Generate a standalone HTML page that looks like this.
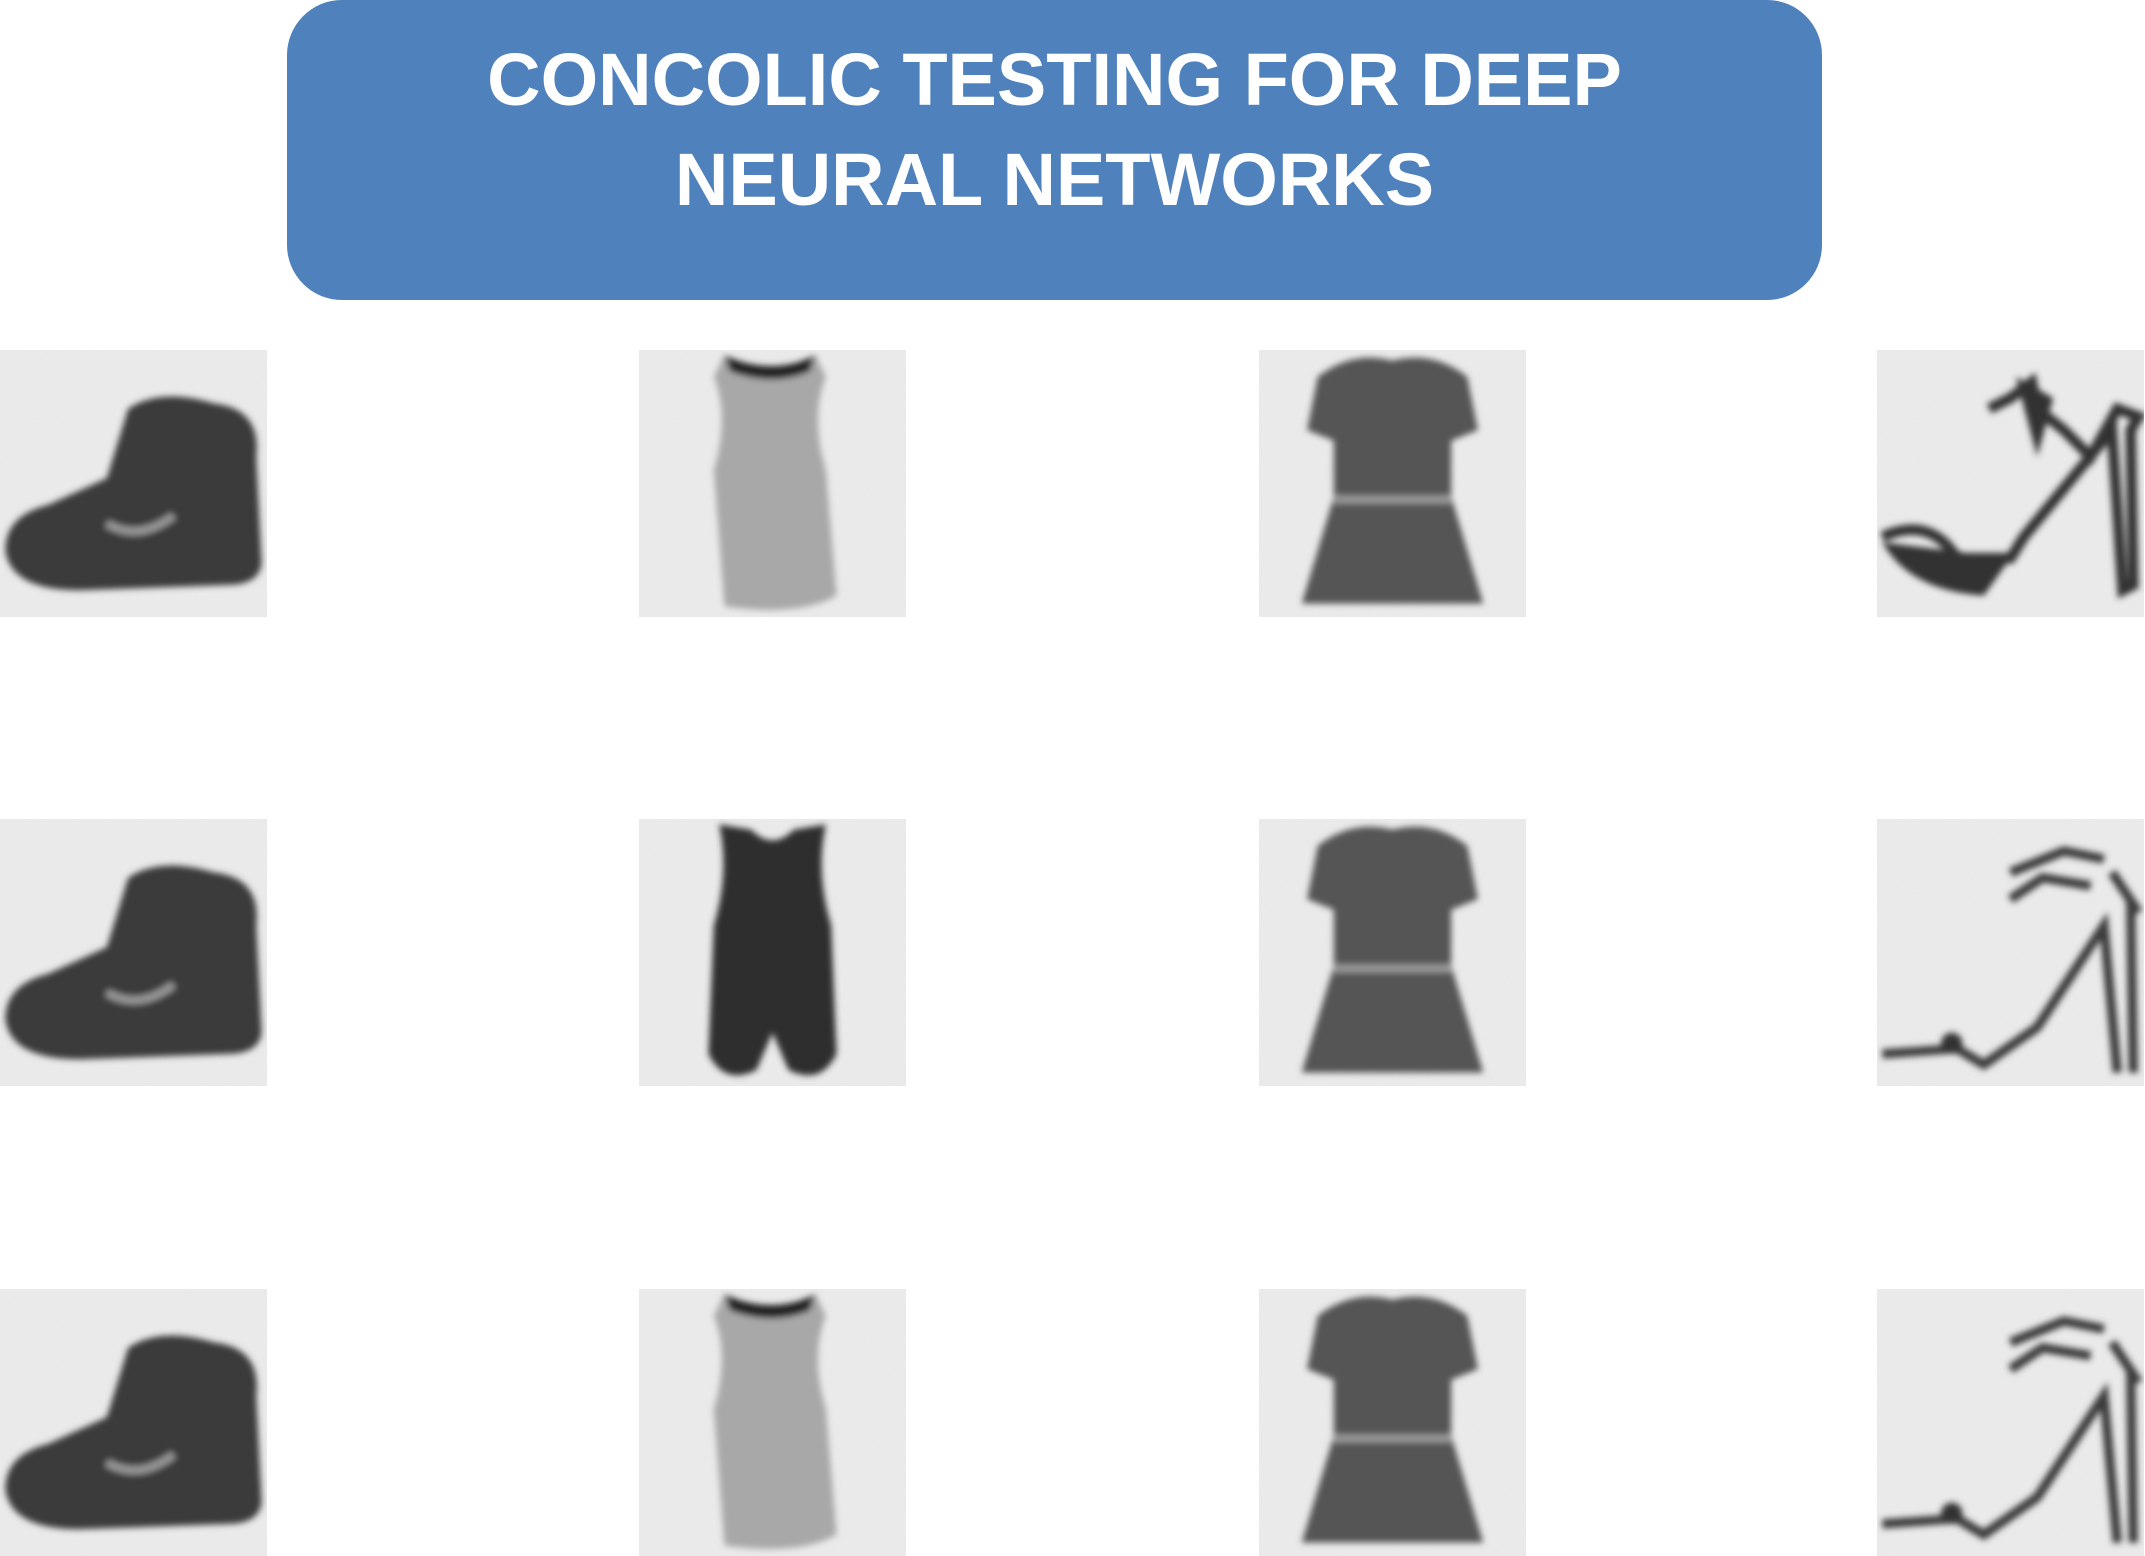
<!DOCTYPE html>
<html><head><style>
body{margin:0;width:2145px;height:1554px;background:#fff;position:relative;overflow:hidden;font-family:"Liberation Sans",sans-serif}
.title{position:absolute;left:287px;top:0;width:1535px;height:300px;background:#4f81bd;border-radius:55px;color:#fff;font-weight:bold;font-size:74px;text-align:center;line-height:100px;padding-top:30px;box-sizing:border-box}
svg.t{position:absolute;width:267px;height:267px}
</style></head><body>
<div class="title">CONCOLIC TESTING FOR DEEP<br>NEURAL NETWORKS</div>
<svg width="0" height="0" style="position:absolute">
<defs>
<filter id="n" x="0" y="0" width="100%" height="100%"><feTurbulence type="fractalNoise" baseFrequency="0.9" numOctaves="2" seed="3"/><feColorMatrix type="matrix" values="0 0 0 0 0.8 0 0 0 0 0.8 0 0 0 0 0.8 0 0 0 -1.2 1.1"/></filter>
<filter id="b"><feGaussianBlur stdDeviation="1.2"/></filter>
</defs></svg>
<div id="g"></div>
<script>
const cols=[0,639,1259,1877],rows=[350,819,1289];
const shapes={
boot:'<path d="M2 75 Q2 62 18 58 L40 48 L48 22 Q60 14 80 20 Q98 22 96 40 L98 80 Q97 88 85 88 L30 90 Q4 90 2 75Z" fill="#3a3a3a"/><path d="M40 65 Q52 72 65 62" stroke="#999" stroke-width="3" fill="none"/>',
tankL:'<path d="M32 2 Q50 10 66 2 L70 10 Q64 25 70 45 L74 92 Q60 100 32 96 L28 45 Q34 25 28 10Z" fill="#a8a8a8"/><path d="M32 2 Q50 10 66 2 L64 8 Q50 14 34 8Z" fill="#222"/>',
tankD:'<path d="M30 2 L42 4 Q50 12 58 4 L70 2 Q66 20 72 40 L74 88 Q68 100 56 94 L50 80 L44 94 Q32 100 26 88 L28 40 Q34 20 30 2Z" fill="#2e2e2e"/>',
dress:'<path d="M22 10 Q35 0 50 4 Q65 0 78 10 L82 30 L72 34 L72 55 L84 95 L16 95 L28 55 L28 34 L18 30Z" fill="#555"/><path d="M28 56 L72 56" stroke="#999" stroke-width="3"/>',
sandalA:'<path d="M2 70 Q20 62 30 78 L50 78 L55 70 L88 30 L92 90 L96 88 L95 30 L98 25 L90 22 L80 40 L70 30 L60 22 L58 12 L50 18 L42 22" stroke="#333" stroke-width="4" fill="none"/><path d="M2 72 Q12 90 40 92 L50 78Z" fill="#333"/><path d="M52 10 L60 40 L66 18Z" fill="#333"/>',
sandalB:'<path d="M2 88 L30 86 L40 92 L60 78 L85 40 L90 95 M95 30 L96 95 M50 20 L70 12 L85 15 M50 30 L62 22 L80 25 M88 20 L98 35" stroke="#3a3a3a" stroke-width="3.5" fill="none"/><circle cx="28" cy="84" r="4" fill="#333"/>'
};
const grid=[['boot','tankL','dress','sandalA'],['boot','tankD','dress','sandalB'],['boot','tankL','dress','sandalB']];
let h='';
rows.forEach((y,r)=>cols.forEach((x,c)=>{
h+=`<svg class="t" style="left:${x}px;top:${y}px" viewBox="0 0 100 100" preserveAspectRatio="none"><rect width="100" height="100" fill="#ebebeb"/><rect width="100" height="100" filter="url(#n)" opacity=".6"/><g filter="url(#b)">${shapes[grid[r][c]]}</g></svg>`;}));
document.getElementById('g').innerHTML=h;
</script>
</body></html>
